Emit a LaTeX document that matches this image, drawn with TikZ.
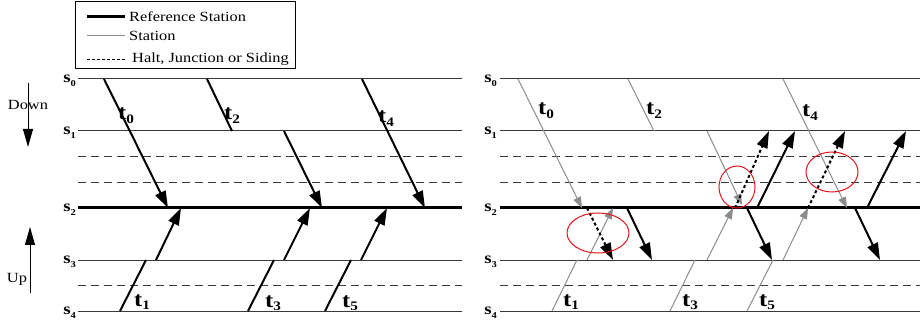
\documentclass[tikz,border=0pt]{standalone}
\usepackage{fontspec}
\setmainfont{Liberation Serif}[FakeStretch=1.17]
\usepackage{xcolor}
\usetikzlibrary{arrows.meta}
\definecolor{trLine}{HTML}{3A3A3A}
\definecolor{trGrey}{HTML}{8C8C8C}
\definecolor{trRed}{HTML}{E3151C}

\newcommand\stlab[1]{{\fontsize{16}{16}\selectfont\bfseries s\raisebox{-.5ex}{\fontsize{9}{9}\selectfont #1}}}
\newcommand\trlab[1]{{\fontsize{21}{21}\selectfont\bfseries t\raisebox{-.4ex}{\fontsize{13}{13}\selectfont #1}}}

\begin{document}
\begin{tikzpicture}[
  x=1pt,y=-1pt,
  font=\fontsize{14}{14}\selectfont,
  stn/.style={draw=trLine,line width=1pt},
  refl/.style={draw=black,line width=3pt},
  halt/.style={draw=trLine,line width=1pt,dash pattern=on 8pt off 5pt},
  run/.style={draw=black,line width=2pt},
  arr/.style={run,-{Triangle[length=17pt,width=11pt]}},
  darr/.style={arr,dash pattern=on 3pt off 2.5pt},
  grun/.style={draw=trGrey,line width=1pt},
  garr/.style={grun,-{Triangle[length=11pt,width=8pt]}},
  dir/.style={draw=black,line width=1pt,-{Triangle[length=18pt,width=10pt]}},
  ring/.style={draw=trRed,line width=1pt},
  stlbl/.style={anchor=base east,inner sep=0pt},
  tlbl/.style={anchor=base west,inner sep=0pt},
  leg/.style={anchor=west,inner sep=0pt}
]
\useasboundingbox (0,0) rectangle (920,320);

% legend
\node[draw,line width=1pt,minimum width=220pt,minimum height=67pt,anchor=north west,inner sep=0pt] (legend) at (75,1) {};
\draw[refl] (87,17) -- (125,17);
\node[leg] (lgref) at (129,17) {Reference Station};
\draw[draw=trGrey,line width=1pt] (87,36) -- (125,36);
\node[leg] (lgstn) at (129,36) {Station};
\draw[draw=black,line width=.8pt,dash pattern=on 3pt off 2pt] (87,59) -- (125,59);
\node[leg] (lghalt) at (132,59) {Halt, Junction or Siding};

% direction
\node (down) at (28,105) {Down};
\draw[dir] (28,83) -- (28,147);
\node (up) at (17,279) {Up};
\draw[dir] (30,293) -- (30,227);

% stations, both panels
\foreach \n/\y/\s in {0/79/stn,1/131/stn,2/208/refl,3/260/stn,4/311/stn} {
  \coordinate (Lw\n) at (78,\y); \coordinate (Le\n) at (462,\y);
  \coordinate (Rw\n) at (500,\y); \coordinate (Re\n) at (920,\y);
  \draw[\s] (Lw\n) -- (Le\n);
  \draw[\s] (Rw\n) -- (Re\n);
  \node[stlbl] (sL\n) at (76,\y+3.5) {\stlab{\n}};
  \node[stlbl] (sR\n) at (497,\y+3.5) {\stlab{\n}};
}
\foreach \y in {157,183,285} {
  \draw[halt] (78,\y) -- (462,\y);
  \draw[halt] (500,\y) -- (920,\y);
}

% left panel: timetable as planned
\draw[arr] (104,79) -- (168,208);
\draw[run] (207,79) -- (232,131);
\draw[arr] (284,131) -- (322,208);
\draw[arr] (362,79) -- (425,208);
\draw[run] (120,311) -- (146,260);
\draw[arr] (156,260) -- (181,208);
\draw[run] (248,311) -- (274,260);
\draw[arr] (284,260) -- (310,208);
\draw[run] (325,311) -- (351,260);
\draw[arr] (361,260) -- (387,208);
\node[tlbl] (lt0) at (118,120) {\trlab{0}};
\node[tlbl] (lt2) at (224,120) {\trlab{2}};
\node[tlbl] (lt4) at (378,123) {\trlab{4}};
\node[tlbl] (lt1) at (134,306) {\trlab{1}};
\node[tlbl] (lt3) at (265,307) {\trlab{3}};
\node[tlbl] (lt5) at (342,307) {\trlab{5}};

% right panel: arrivals in grey, departures in black
\draw[garr] (518,79) -- (582,208);
\draw[grun] (628,79) -- (654,131);
\draw[garr] (707,131) -- (742,205);
\draw[garr] (783,79) -- (847,208);
\draw[grun] (552,311) -- (577,260);
\draw[garr] (587,260) -- (613,208);
\draw[grun] (670,311) -- (695,260);
\draw[garr] (707,260) -- (733,208);
\draw[grun] (747,311) -- (773,260);
\draw[garr] (783,260) -- (808,208);

\draw[arr] (627,208) -- (652,260);
\draw[arr] (747,208) -- (772,260);
\draw[arr] (855,208) -- (880,260);
\draw[arr] (757,208) -- (795,131);
\draw[arr] (867,208) -- (906,131);
\draw[darr] (587,208) -- (613,260);
\draw[darr] (735,208) -- (769,131);
\draw[darr] (808,208) -- (845,131);

\node[tlbl] (rt0) at (538,115) {\trlab{0}};
\node[tlbl] (rt2) at (646,115) {\trlab{2}};
\node[tlbl] (rt4) at (802,117) {\trlab{4}};
\node[tlbl] (rt1) at (563,306) {\trlab{1}};
\node[tlbl] (rt3) at (682,306) {\trlab{3}};
\node[tlbl] (rt5) at (759,306) {\trlab{5}};

% conflicts
\draw[ring] (598,233) ellipse [x radius=31pt,y radius=20pt];
\draw[ring] (737,187) ellipse [x radius=18pt,y radius=21pt];
\draw[ring] (832,172) ellipse [x radius=26pt,y radius=20pt];
\end{tikzpicture}
\end{document}
